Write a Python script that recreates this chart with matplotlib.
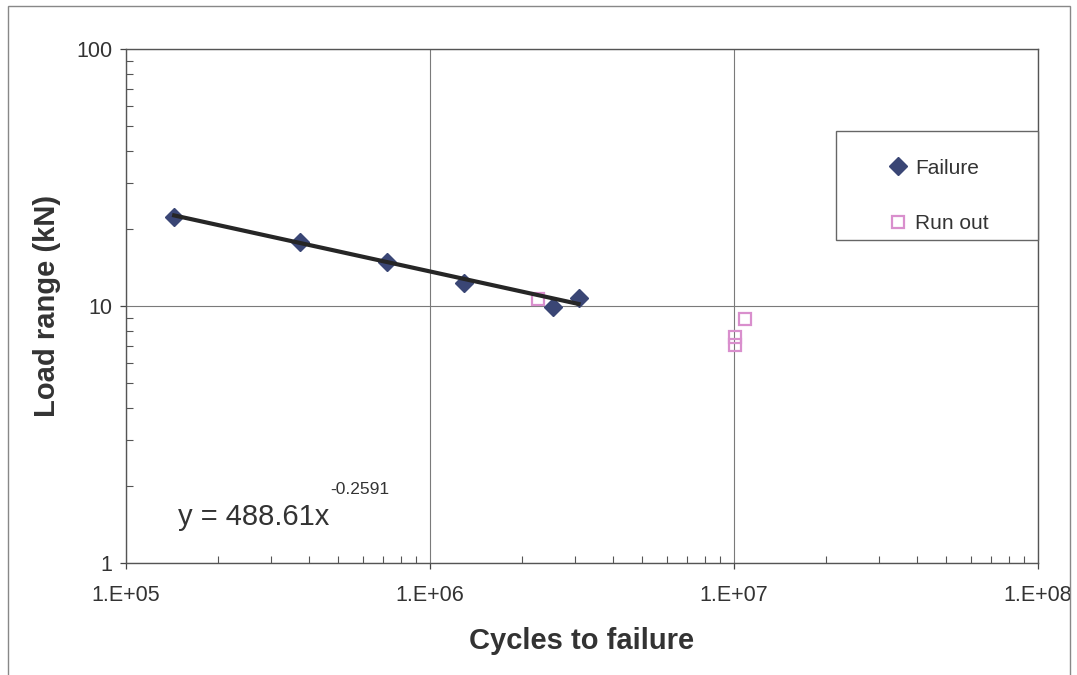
import numpy as np
import matplotlib
matplotlib.use("Agg")
import matplotlib.pyplot as plt
from matplotlib.patches import Rectangle
from matplotlib.ticker import NullFormatter

plt.rcParams['font.family'] = ['Liberation Sans', 'DejaVu Sans']

# fatigue results
fail_cycles = [1.44e5, 3.73e5, 7.2e5, 1.29e6, 2.53e6, 3.08e6]
fail_load = [22.2, 17.7, 14.8, 12.3, 9.9, 10.7]
runout_cycles = [2.26e6, 1.083e7, 1.01e7, 1.01e7]
runout_load = [10.6, 8.86, 7.57, 7.08]

# power law fit  y = a * x^b
fit_a = 488.61
fit_b = -0.2591

txt = '#333333'

fig = plt.figure(figsize=(10.77, 6.75), dpi=100)
ax = fig.add_axes([0.117, 0.166, 0.8468, 0.7614])

ax.set_xscale('log')
ax.set_yscale('log')
ax.set_xlim(1e5, 1e8)
ax.set_ylim(1, 100)

ax.grid(True, which='major', color='#7a7a7a', linewidth=0.8)
ax.set_axisbelow(True)

ax.plot(fail_cycles, fail_load, linestyle='none', marker='D', markersize=9,
        color='#3a4675', markeredgecolor='#3a4675', label='Failure', zorder=3)
ax.plot(runout_cycles, runout_load, linestyle='none', marker='s', markersize=8.5,
        markerfacecolor='none', markeredgecolor='#d98fcd', markeredgewidth=1.6,
        label='Run out', zorder=3)

xfit = np.array([min(fail_cycles), max(fail_cycles)])
ax.plot(xfit, fit_a * xfit ** fit_b, color='#262626', linewidth=3, zorder=4)

eq = ax.text(1.48e5, 1.41, 'y = %.2fx' % fit_a, fontsize=21, color=txt,
             va='baseline', ha='left')
ax.annotate('%.4f' % fit_b, xy=(1, 0), xycoords=eq, xytext=(1, 26),
            textcoords='offset points', fontsize=12.5, color=txt,
            va='baseline', ha='left')

ax.set_xticks([1e5, 1e6, 1e7, 1e8])
ax.set_xticklabels(['1.E+05', '1.E+06', '1.E+07', '1.E+08'])
ax.set_yticks([1, 10, 100])
ax.set_yticklabels(['1', '10', '100'])
ax.tick_params(which='major', direction='out', length=4, width=0.9,
               colors='#444444', labelcolor=txt, labelsize=15.5)
ax.tick_params(axis='x', which='major', pad=12)
ax.tick_params(axis='y', which='major', pad=6)
ax.tick_params(which='minor', direction='in', length=5, width=0.8,
               colors='#555555')
ax.yaxis.set_minor_formatter(NullFormatter())
ax.xaxis.set_minor_formatter(NullFormatter())

for s in ax.spines.values():
    s.set_color('#555555')
    s.set_linewidth(1.0)

ax.set_xlabel('Cycles to failure', fontsize=21, fontweight='bold', color=txt,
              labelpad=15)
ax.set_ylabel('Load range (kN)', fontsize=21, fontweight='bold', color=txt,
              labelpad=11)

# legend box
ax.add_patch(Rectangle((0.778, 0.628), 0.222, 0.212, transform=ax.transAxes,
                       facecolor='white', edgecolor='#666666', linewidth=1.0,
                       zorder=5, clip_on=False))
leg = ax.legend(loc='center left', bbox_to_anchor=(0.824, 0.714), frameon=False,
                fontsize=15, handlelength=1.0, handletextpad=0.3,
                borderpad=0, labelspacing=1.75, labelcolor=txt)
leg.set_zorder(6)

# outer chart border
fig.add_artist(Rectangle((8 / 1077, -0.02), 1062 / 1077, 1 - 6 / 675 + 0.02,
                         transform=fig.transFigure, facecolor='none',
                         edgecolor='#888888', linewidth=1.0))

fig.savefig('out.png', dpi=100, facecolor='white')
